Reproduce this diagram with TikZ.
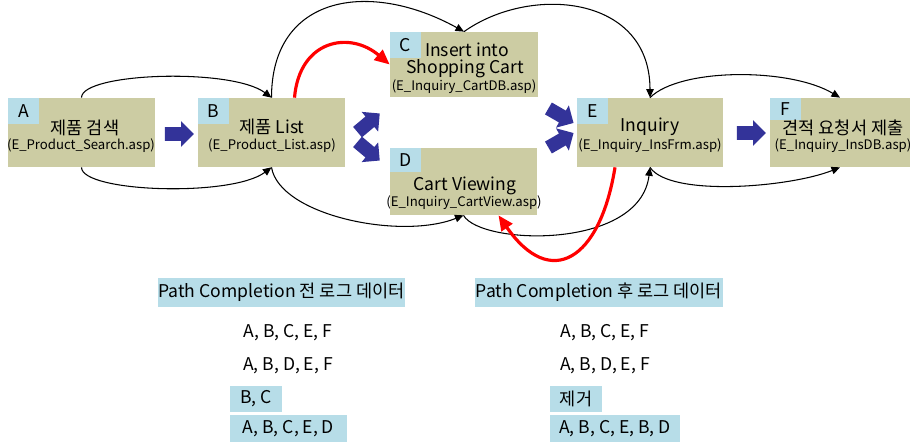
\documentclass[tikz,border=0pt]{standalone}
\usepackage{fontspec}
\setmainfont{Noto Sans CJK KR}
\usepackage{tikz}
\usetikzlibrary{shapes.arrows, arrows.meta, positioning, calc}
\usepackage{xcolor}

\definecolor{pagefill}{RGB}{204,204,163}
\definecolor{tagblue}{RGB}{183,221,232}
\definecolor{navy}{RGB}{51,51,153}
\newcommand{\pxu}{0.02cm}
\newcommand{\mainsz}{\fontsize{10}{12}\selectfont}
\newcommand{\filesz}{\fontsize{7.5}{9}\selectfont}

\begin{document}
\begin{tikzpicture}[x=0.02cm, y=-0.02cm,
    page/.style={fill=pagefill, inner sep=0pt},
    tag/.style={fill=tagblue, inner sep=0pt, anchor=north west, minimum width=31*\pxu, minimum height=26*\pxu, font=\mainsz},
    flow/.style={-{Triangle[length=1.7mm,width=1.5mm]}, line width=0.6pt},
    back/.style={-{Triangle[length=3mm,width=2.6mm]}, red, line width=1.8pt},
    move/.style={single arrow, fill=navy, inner xsep=0pt, inner ysep=6.5*\pxu, minimum height=29*\pxu, single arrow head extend=6*\pxu},
    hdr/.style={fill=tagblue, inner sep=0pt, font=\mainsz},
    logline/.style={font=\mainsz}]

    \useasboundingbox (0,0) rectangle (912,445);

    % pages
    \node[page, minimum width=147*\pxu, minimum height=69*\pxu] (A) at (81.5,132.5) {};
    \node[page, minimum width=147*\pxu, minimum height=69*\pxu] (B) at (271.5,132.5) {};
    \node[page, minimum width=148*\pxu, minimum height=65*\pxu] (C) at (464,64.5) {};
    \node[page, minimum width=147*\pxu, minimum height=67*\pxu] (D) at (463.5,181.5) {};
    \node[page, minimum width=146*\pxu, minimum height=69*\pxu] (E) at (650,132.5) {};
    \node[page, minimum width=140*\pxu, minimum height=69*\pxu] (F) at (840,132.5) {};

    \node[tag] (Atag) at (A.north west) {A};
    \node[tag] (Btag) at (B.north west) {B};
    \node[tag] (Ctag) at (C.north west) {C};
    \node[tag, minimum height=24*\pxu] (Dtag) at (D.north west) {D};
    \node[tag] (Etag) at (E.north west) {E};
    \node[tag, minimum height=22*\pxu] (Ftag) at (F.north west) {F};

    \node (Aname) at (85,128) {\mainsz 제품 검색};
    \node (Afile) at (81,146) {\filesz (E\_Product\_Search.asp)};
    \node (Bname) at (272,127) {\mainsz 제품 List};
    \node (Bfile) at (272,146) {\filesz (E\_Product\_List.asp)};
    \node (Cname) at (467,50) {\mainsz Insert into};
    \node (Cname2) at (465,69) {\mainsz Shopping Cart};
    \node (Cfile) at (464,87) {\filesz (E\_Inquiry\_CartDB.asp)};
    \node (Dname) at (465,186) {\mainsz Cart Viewing};
    \node (Dfile) at (464,203) {\filesz (E\_Inquiry\_CartView.asp)};
    \node (Ename) at (650,127) {\mainsz Inquiry};
    \node (Efile) at (650,146) {\filesz (E\_Inquiry\_InsFrm.asp)};
    \node (Fname) at (843,128) {\mainsz 견적 요청서 제출};
    \node (Ffile) at (843,146) {\filesz (E\_Inquiry\_InsDB.asp)};

    % main moves
    \node[move] (mAB) at (176,134) {};
    \node[move, rotate=40] (mBC) at (366,125) {};
    \node[move, rotate=-40] (mBD) at (366,149) {};
    \node[move, rotate=-30] (mCE) at (558,114) {};
    \node[move, rotate=30] (mDE) at (558,142) {};
    \node[move] (mEF) at (748,133) {};

    % links over the top
    \draw[flow] (A.north) .. controls +(0,-25) and +(-40,-30) .. (B.north);
    \draw[flow] (B.north) .. controls +(0,-103) and +(-94,-52) .. (C.north);
    \draw[flow] (C.north) .. controls +(66,-47) and +(0,-103) .. (E.north);
    \draw[flow] (E.north) .. controls +(30,-30) and +(-50,-30) .. (F.north);
    % links under
    \draw[flow] (A.south) .. controls +(0,25) and +(-40,30) .. (B.south);
    \draw[flow] (B.south) .. controls +(8,48) and +(-63,25) .. (D.south);
    \draw[flow] (D.south) .. controls +(17,30) and +(-10,83) .. (E.south);
    \draw[flow] (E.south) .. controls +(20,30) and +(-50,20) .. (F.south);

    % back steps
    \draw[back] ($(B.north)+(23,0)$) .. controls +(5,-58) and +(-40,-34) .. (C.west);
    \draw[back] ($(E.south)+(-35,0)$) .. controls +(-15,93) and +(52,75) .. ($(D.south)+(35,0)$);

    % log data
    \node[hdr, minimum width=247*\pxu, minimum height=29*\pxu] (hdrL) at (281.5,292.5) {Path Completion 전 로그 데이터};
    \node[logline] (L1) at (288,333) {A, B, C, E, F};
    \node[logline] (L2) at (288,366) {A, B, D, E, F};
    \node[hdr, minimum width=52*\pxu, minimum height=26*\pxu] (L3) at (256,399) {B, C};
    \node[hdr, minimum width=117*\pxu, minimum height=27*\pxu] (L4) at (288.5,428.5) {A, B, C, E, D};

    \node[hdr, minimum width=248*\pxu, minimum height=29*\pxu] (hdrR) at (599,292.5) {Path Completion 후 로그 데이터};
    \node[logline] (R1) at (605,333) {A, B, C, E, F};
    \node[logline] (R2) at (605,366) {A, B, D, E, F};
    \node[hdr, minimum width=52*\pxu, minimum height=26*\pxu] (R3) at (576,399) {제거};
    \node[hdr, minimum width=130*\pxu, minimum height=27*\pxu] (R4) at (615,428.5) {A, B, C, E, B, D};
\end{tikzpicture}
\end{document}
